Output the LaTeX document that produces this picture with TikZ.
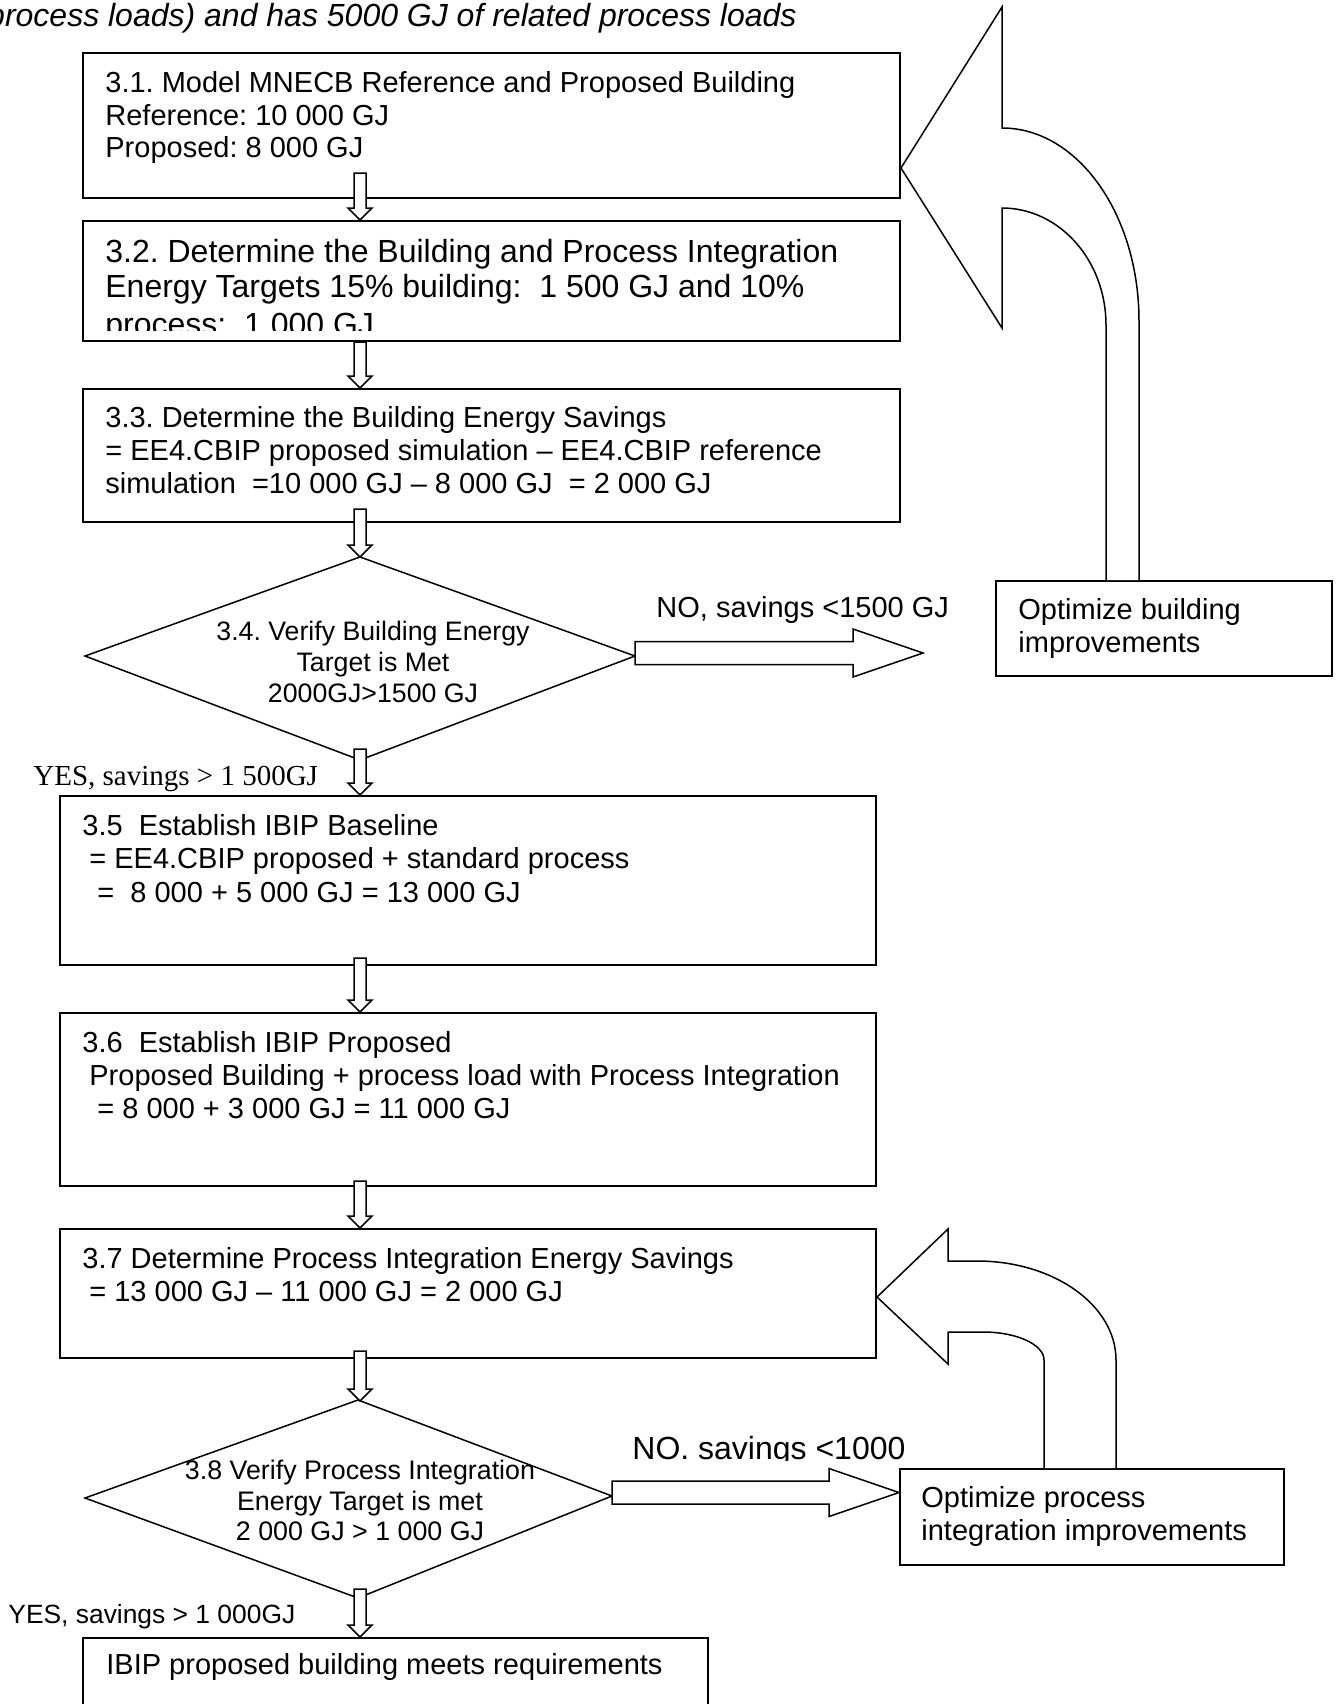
\documentclass[tikz,border=0pt]{standalone}
\usepackage{fontspec}
\setmainfont{Liberation Sans}
\newfontfamily\timesf{Liberation Serif}
\usetikzlibrary{calc,fit}
\frenchspacing
\tikzset{
  box/.style={draw, line width=1pt, inner sep=0pt, rectangle},
  blockarr/.style={draw, fill=white, line width=0.75pt, line join=miter},
  bigarr/.style={draw, fill=white, line width=0.75pt},
  dia/.style={draw, line width=0.75pt},
  lt/.style={anchor=base west, inner sep=0pt, font=\fontsize{14.5}{17}\selectfont},
  lb/.style={anchor=base west, inner sep=0pt, font=\fontsize{16}{19}\selectfont},
  lc/.style={anchor=base, inner sep=0pt, font=\fontsize{13.35}{16}\selectfont},
}
\newcommand{\vblock}[2]{%
  \draw[blockarr] ($(#1)+(-6,0)$) -- ($(#2)+(-6,-12)$) -- ($(#2)+(-12,-12)$) -- (#2)
    -- ($(#2)+(12,-12)$) -- ($(#2)+(6,-12)$) -- ($(#1)+(6,0)$) -- cycle;}
\newcommand{\hblock}[2]{%
  \draw[blockarr] ($(#1)+(0,-11.5)$) -- ($(#2)+(-70,-11.5)$) -- ($(#2)+(-70,-24)$) -- (#2)
    -- ($(#2)+(-70,24)$) -- ($(#2)+(-70,11.5)$) -- ($(#1)+(0,11.5)$) -- cycle;}
\begin{document}
\begin{tikzpicture}[x={(0.5pt,0pt)}, y={(0pt,-0.5pt)}]
\useasboundingbox (0,0) rectangle (1338,1704);

% header
\node[anchor=base east, inner sep=0pt, font=\itshape\fontsize{16}{19}\selectfont] (hdr) at (797,26)
  {process loads) and has 5000 GJ of related process loads};

% boxes
\node[box, fit={(83,53) (900,198)}] (b31) {};
\node[box, fit={(83,221) (900,341)}] (b32) {};
\node[box, fit={(83,389) (900,522)}] (b33) {};
\node[box, fit={(996,581) (1332,676)}] (bob) {};
\node[box, fit={(60,796) (876,965)}] (b35) {};
\node[box, fit={(60,1013) (876,1186)}] (b36) {};
\node[box, fit={(60,1229) (876,1358)}] (b37) {};
\node[box, fit={(900,1469) (1284,1565)}] (bop) {};
\node[box, fit={(83,1638) (708,1780)}] (bfin) {};

% diamonds
\coordinate (d34l) at (85,656);
\coordinate (d34t) at (360,557);
\coordinate (d34r) at (635,656);
\coordinate (d34b) at (360,760);
\draw[dia] (d34l) -- (d34t) -- (d34r) -- (d34b) -- cycle;
\coordinate (d38l) at (85,1498);
\coordinate (d38t) at (358,1400);
\coordinate (d38r) at (612,1496);
\coordinate (d38b) at (358,1598);
\draw[dia] (d38l) -- (d38t) -- (d38r) -- (d38b) -- cycle;

% texts
\node[lt] (t31a) at (105,92) {3.1. Model MNECB Reference and Proposed Building};
\node[lt] (t31b) at (105,125) {Reference: 10 000 GJ};
\node[lt] (t31c) at (105,157) {Proposed: 8 000 GJ};

\node[lb] (t32a) at (105,262) {3.2. Determine the Building and Process Integration};
\node[lb] (t32b) at (105,297) {Energy Targets 15\% building:\ \ 1 500 GJ and 10\%};
\begin{scope}
  \clip (83,221) rectangle (900,330);
  \node[lb] (t32c) at (105,335) {process:\ \ 1 000 GJ};
\end{scope}

\node[lt] (t33a) at (105,427) {3.3. Determine the Building Energy Savings};
\node[lt] (t33b) at (105,460) {= EE4.CBIP proposed simulation – EE4.CBIP reference};
\node[lt] (t33c) at (105,493) {simulation\ \ =10 000 GJ – 8 000 GJ\ \ = 2 000 GJ};

\node[lc] (t34a) at (373,640) {3.4. Verify Building Energy};
\node[lc] (t34b) at (373,671) {Target is Met};
\node[lc] (t34c) at (373,702) {2000GJ>1500 GJ};

\node[lt] (no1) at (656,617) {NO, savings <1500 GJ};
\node[lt] (tob1) at (1018,619) {Optimize building};
\node[lt] (tob2) at (1018,652) {improvements};

\node[anchor=base west, inner sep=0pt, font=\timesf\fontsize{14.5}{17}\selectfont] (yes1) at (33,785) {YES, savings > 1 500GJ};

\node[lt] (t35a) at (82,835) {3.5\ \ Establish IBIP Baseline};
\node[lt] (t35b) at (89,868) {= EE4.CBIP proposed + standard process};
\node[lt] (t35c) at (97,902) {=\ \ 8 000 + 5 000 GJ = 13 000 GJ};

\node[lt] (t36a) at (82,1052) {3.6\ \ Establish IBIP Proposed};
\node[lt] (t36b) at (89,1085) {Proposed Building + process load with Process Integration};
\node[lt] (t36c) at (97,1118) {= 8 000 + 3 000 GJ = 11 000 GJ};

\node[lt] (t37a) at (82,1268) {3.7 Determine Process Integration Energy Savings};
\node[lt] (t37b) at (89,1301) {= 13 000 GJ – 11 000 GJ = 2 000 GJ};

\node[lc, font=\fontsize{13.4}{16}\selectfont] (t38a) at (360,1479) {3.8 Verify Process Integration};
\node[lc, font=\fontsize{13.4}{16}\selectfont] (t38b) at (360,1510) {Energy Target is met};
\node[lc, font=\fontsize{13.4}{16}\selectfont] (t38c) at (360,1540) {2 000 GJ > 1 000 GJ};

\begin{scope}
  \clip (600,1400) rectangle (1000,1460);
  \node[lb] (no2) at (632,1459) {NO. savings <1000};
\end{scope}

\node[lt] (top1) at (921,1507) {Optimize process};
\node[lt] (top2) at (921,1540) {integration improvements};

\node[anchor=base west, inner sep=0pt, font=\fontsize{13.2}{16}\selectfont] (yes2) at (8,1623) {YES, savings > 1 000GJ};

\node[lt] (tfin) at (106,1674) {IBIP proposed building meets requirements};

% big curved arrows
\coordinate (c1a) at (1139,0 |- bob.north);
\coordinate (c1b) at (1106,0 |- bob.north);
\coordinate (c1tip) at (b31.east |- 0,168);
\draw[bigarr] (c1a) -- (1139,321) .. controls (1139,214.4) and (1077.7,128) .. (1002,128)
  -- (1002,7) -- (c1tip) -- (1002,328) -- (1002,208)
  .. controls (1059.4,208) and (1106,260.4) .. (1106,325) -- (c1b);

\coordinate (c2a) at (1116,0 |- bop.north);
\coordinate (c2b) at (1044,0 |- bop.north);
\coordinate (c2tip) at (b37.east |- 0,1297);
\draw[bigarr] (c2a) -- (1116,1360) .. controls (1116,1305.3) and (1053.8,1261) .. (977,1261)
  -- (948,1261) -- (948,1229) -- (c2tip) -- (948,1364) -- (948,1332) -- (983,1332)
  .. controls (1016.7,1332) and (1044,1344.5) .. (1044,1360) -- (c2b);

% vertical block connectors
\coordinate (a1s) at (360,173);  \coordinate (a1t) at (a1s |- b32.north);
\coordinate (a2s) at (a1s |- b32.south); \coordinate (a2t) at (a1s |- b33.north);
\coordinate (a3s) at (360,509);  \coordinate (a3t) at (d34t);
\coordinate (a4s) at (360,749);  \coordinate (a4t) at (a4s |- b35.north);
\coordinate (a5s) at (360,958);  \coordinate (a5t) at (a5s |- b36.north);
\coordinate (a6s) at (360,1181); \coordinate (a6t) at (a6s |- b37.north);
\coordinate (a7s) at (360,1351); \coordinate (a7t) at (360,1401);
\coordinate (a8s) at (360,1589); \coordinate (a8t) at (a8s |- bfin.north);
\vblock{a1s}{a1t}
\vblock{a2s}{a2t}
\vblock{a3s}{a3t}
\vblock{a4s}{a4t}
\vblock{a5s}{a5t}
\vblock{a6s}{a6t}
\vblock{a7s}{a7t}
\vblock{a8s}{a8t}

% horizontal NO connectors
\coordinate (n1s) at (d34r |- 0,653);
\coordinate (n1t) at (923,653);
\hblock{n1s}{n1t}
\coordinate (n2s) at (d38r |- 0,1492.5);
\coordinate (n2t) at (bop.west |- n2s);
\hblock{n2s}{n2t}
\end{tikzpicture}
\end{document}
